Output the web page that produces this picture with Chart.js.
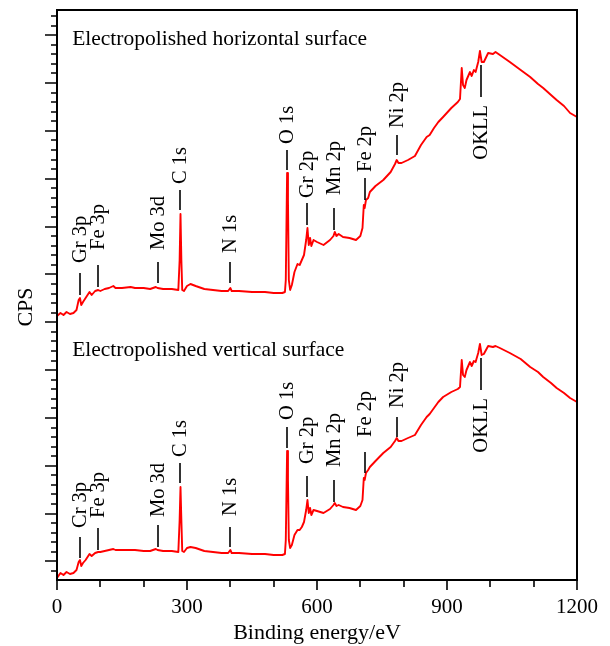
<!DOCTYPE html>
<html>
<head>
<meta charset="utf-8">
<script src="https://cdn.jsdelivr.net/npm/chart.js@4.4.1/dist/chart.umd.min.js"></script>
<style>
  html, body { margin: 0; padding: 0; background: #fff; }
</style>
</head>
<body>
<canvas id="xps" width="610" height="646"></canvas>
<script>
// binding energy (eV) sampled along both survey spectra
const energy = [0, 8, 15, 22, 30, 38, 45, 50, 53, 56, 60, 66, 72, 75, 80, 88, 95, 100, 110, 120,
  130, 135, 150, 170, 180, 200, 215, 228, 232, 245, 265, 280, 283, 285, 287, 289, 293, 300, 308, 320,
  340, 360, 380, 395, 400, 403, 420, 450, 480, 500, 520, 526, 528, 531, 533, 535, 538, 542, 548, 555,
  560, 565, 570, 575, 578, 581, 584, 587, 592, 600, 615, 630, 638, 641, 645, 650, 660, 675, 690, 700,
  705, 708, 710, 713, 718, 722, 735, 753, 770, 780, 784, 788, 795, 810, 826, 840, 853, 860, 870, 880,
  891, 910, 925, 930, 934, 937, 941, 945, 950, 953, 957, 962, 966, 972, 976, 980, 985, 995, 1006, 1012,
  1022, 1045, 1070, 1092, 1110, 1122, 1140, 1153, 1170, 1184, 1200];

// counts, arbitrary units (spectra stacked with an offset)
const horizontalCps = [264, 267, 265, 268, 266, 267, 270, 280, 282, 275, 278, 282, 286, 288, 285, 289, 290, 289, 291, 292,
  294, 292, 292, 293, 292, 292, 291, 293, 292, 291, 291, 290, 320, 366, 320, 290, 289, 294, 296, 294,
  291, 290, 289, 289, 292, 289, 289, 288, 288, 287, 287, 288, 300, 407, 380, 300, 290, 295, 308, 316,
  315, 320, 325, 340, 352, 335, 342, 334, 340, 338, 335, 340, 344, 348, 344, 346, 343, 342, 340, 344,
  352, 375, 372, 380, 382, 388, 394, 400, 408, 416, 420, 417, 417, 420, 424, 435, 443, 445, 452, 458,
  463, 472, 478, 481, 512, 495, 492, 500, 505, 508, 504, 510, 508, 518, 529, 518, 518, 527, 526, 528,
  525, 518, 510, 503, 496, 492, 485, 480, 474, 467, 463];

const verticalCps = [2, 7, 5, 8, 6, 7, 10, 18, 20, 14, 17, 20, 24, 26, 24, 27, 28, 28, 29, 30,
  31, 30, 30, 30, 30, 29, 29, 31, 30, 29, 29, 28, 60, 93, 60, 29, 28, 32, 33, 32,
  29, 28, 27, 27, 30, 27, 27, 26, 26, 25, 25, 26, 40, 129, 100, 40, 32, 35, 45, 50,
  50, 53, 58, 70, 80, 67, 72, 65, 70, 69, 67, 71, 75, 77, 74, 75, 73, 72, 70, 74,
  80, 102, 100, 107, 110, 113, 119, 127, 133, 139, 142, 139, 139, 142, 145, 155, 163, 166, 172, 178,
  183, 188, 191, 193, 220, 205, 203, 210, 215, 218, 214, 219, 218, 227, 236, 225, 226, 234, 233, 234,
  232, 227, 221, 213, 208, 203, 197, 192, 187, 182, 178];

const xTicks = [0, 300, 600, 900, 1200];
const peakEnergies = [53, 95, 233, 284, 399, 531, 577, 639, 711, 785, 978];
const topPeakNames = ["Gr 3p", "Fe 3p", "Mo 3d", "C 1s", "N 1s", "O 1s", "Gr 2p", "Mn 2p", "Fe 2p", "Ni 2p", "OKLL"];
const bottomPeakNames = ["Cr 3p", "Fe 3p", "Mo 3d", "C 1s", "N 1s", "O 1s", "Gr 2p", "Mn 2p", "Fe 2p", "Ni 2p", "OKLL"];

// marker layout, in count units: [line low, line high, text anchor]
const topMarks = [[285, 307, 317], [293, 315, 330], [297, 318, 330], [370, 390, 396], [297, 318, 327],
  [410, 430, 436], [355, 377, 382], [350, 372, 385], [380, 402, 408], [425, 445, 452], [483, 515, 475]];
const bottomMarks = [[22, 43, 52], [30, 52, 62], [33, 55, 63], [97, 117, 123], [33, 53, 64],
  [132, 153, 160], [83, 104, 116], [78, 100, 113], [107, 128, 143], [143, 163, 172], [190, 222, 182]];

const serif = "'Liberation Serif', 'Times New Roman', serif";

const decor = {
  id: "decor",
  afterDatasetsDraw(chart) {
    const { ctx, chartArea: a } = chart;
    const xs = chart.scales.x, ys = chart.scales.y;
    ctx.save();
    ctx.strokeStyle = "#000";
    ctx.fillStyle = "#000";

    // frame
    ctx.lineWidth = 2;
    ctx.strokeRect(a.left, a.top, a.right - a.left, a.bottom - a.top);

    // x ticks (major every 300, minor every 100)
    ctx.lineWidth = 1.6;
    ctx.beginPath();
    for (let v = 0; v <= 1200; v += 100) {
      const px = Math.round(xs.getPixelForValue(v));
      const len = v % 300 === 0 ? 10 : 7;
      ctx.moveTo(px, a.bottom);
      ctx.lineTo(px, a.bottom + len);
    }
    // y ticks
    let k = 0;
    for (let v = 564; v > 0; v -= 9.57, k++) {
      const py = Math.round(ys.getPixelForValue(v));
      const len = (k - 2) % 5 === 0 ? 12 : 6;
      ctx.moveTo(a.left, py);
      ctx.lineTo(a.left - len, py);
    }
    ctx.stroke();

    // peak markers
    ctx.font = "20.5px " + serif;
    ctx.textBaseline = "middle";
    const drawMarks = (names, marks) => {
      names.forEach((name, i) => {
        const px = Math.round(xs.getPixelForValue(peakEnergies[i]));
        const m = marks[i];
        ctx.beginPath();
        ctx.lineWidth = 1.6;
        ctx.moveTo(px, ys.getPixelForValue(m[0]));
        ctx.lineTo(px, ys.getPixelForValue(m[1]));
        ctx.stroke();
        ctx.save();
        ctx.translate(px, ys.getPixelForValue(m[2]));
        ctx.rotate(-Math.PI / 2);
        ctx.textAlign = m[2] < m[0] ? "right" : "left";
        ctx.fillText(name, 0, 1);
        ctx.restore();
      });
    };
    drawMarks(topPeakNames, topMarks);
    drawMarks(bottomPeakNames, bottomMarks);

    // panel captions
    ctx.font = "21.5px " + serif;
    ctx.textAlign = "left";
    ctx.textBaseline = "alphabetic";
    ctx.fillText("Electropolished horizontal surface", xs.getPixelForValue(35), ys.getPixelForValue(535));
    ctx.fillText("Electropolished vertical surface", xs.getPixelForValue(35), ys.getPixelForValue(224));

    // y axis title
    ctx.font = "22px " + serif;
    ctx.save();
    ctx.translate(26, ys.getPixelForValue(273));
    ctx.rotate(-Math.PI / 2);
    ctx.textAlign = "center";
    ctx.textBaseline = "middle";
    ctx.fillText("CPS", 0, 0);
    ctx.restore();
    ctx.restore();
  }
};

new Chart(document.getElementById("xps"), {
  type: "line",
  data: {
    datasets: [
      { data: energy.map((e, i) => ({ x: e, y: horizontalCps[i] })) },
      { data: energy.map((e, i) => ({ x: e, y: verticalCps[i] })) }
    ]
  },
  options: {
    responsive: false,
    animation: false,
    layout: { padding: { top: 10, right: 33, left: 0, bottom: 0 } },
    elements: {
      line: { borderColor: "#ff0000", borderWidth: 1.9, tension: 0, borderJoinStyle: "round" },
      point: { radius: 0 }
    },
    plugins: { legend: { display: false }, tooltip: { enabled: false } },
    scales: {
      x: {
        type: "linear",
        min: 0,
        max: 1200,
        afterBuildTicks: (s) => { s.ticks = xTicks.map((v) => ({ value: v })); },
        ticks: { color: "#000", font: { family: serif, size: 21 }, padding: 15, maxRotation: 0, callback: (v) => String(v) },
        grid: { display: false, drawTicks: false },
        border: { display: false },
        title: { display: true, text: "Binding energy/eV", color: "#000", font: { family: serif, size: 22 }, padding: { top: 0, bottom: 0 } },
        afterFit: (s) => { s.height = 66; s.paddingLeft = 0; s.paddingRight = 0; }
      },
      y: {
        type: "linear",
        min: 0,
        max: 570,
        ticks: { display: false },
        grid: { display: false, drawTicks: false },
        border: { display: false },
        afterFit: (s) => { s.width = 57; s.paddingTop = 0; s.paddingBottom = 0; }
      }
    }
  },
  plugins: [decor]
});
</script>
</body>
</html>
